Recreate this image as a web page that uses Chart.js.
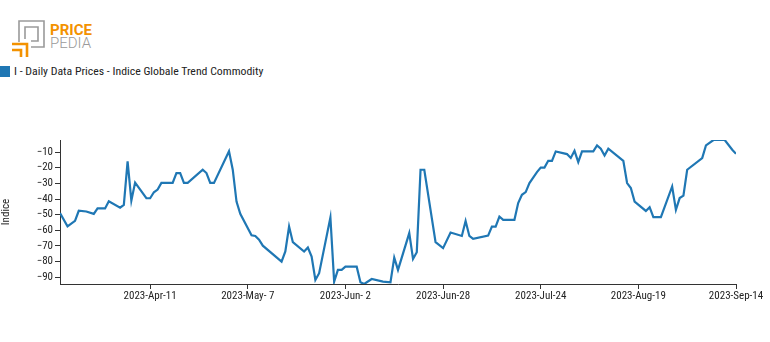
<!DOCTYPE html>
<html>
<head>
<meta charset="utf-8">
<script src="https://cdn.jsdelivr.net/npm/chart.js@4.4.0/dist/chart.umd.min.js"></script>
<style>
  html, body { margin: 0; padding: 0; background: #fff; }
  #wrap { position: relative; width: 770px; height: 342px; overflow: hidden; }
  #chart { position: absolute; left: 0; top: 0; }
  #logo { position: absolute; left: 0; top: 0; }
  #legend {
    position: absolute; left: 0; top: 64px;
    font: 11.8px 'Roboto Condensed', 'Liberation Sans Narrow', 'DejaVu Sans Condensed', Roboto, sans-serif;
    color: #222; display: flex; align-items: center; white-space: nowrap;
  }
  #legend .box { width: 10px; height: 11px; background: #1f77b4; margin-right: 4px; }
</style>
</head>
<body>
<div id="wrap">
  <svg id="logo" width="110" height="62">
    <polyline points="19,42 19,21 44,21 44,47 31,47" fill="none" stroke="#9a9a9a" stroke-width="1.6"/>
    <polyline points="25,39 25,27 38,27 38,41 31,41" fill="none" stroke="#9a9a9a" stroke-width="1.6"/>
    <polyline points="12,44 27,44 27,57" fill="none" stroke="#f39200" stroke-width="2.6"/>
    <polyline points="12,50 21,50 21,57" fill="none" stroke="#f39200" stroke-width="2.6"/>
    <text x="50" y="35" font-family="Roboto, sans-serif" font-weight="bold" font-size="15" fill="#f39200">PRICE</text>
    <text x="50" y="48" font-family="Roboto, sans-serif" font-weight="300" font-size="15" fill="#9a9a9a">PEDIA</text>
  </svg>
  <div id="legend"><span class="box"></span>I - Daily Data Prices - Indice Globale Trend Commodity</div>
  <canvas id="chart" width="770" height="342"></canvas>
</div>
<script>
// Daily index values
const startDate = '2023-03-18';
const endDate = '2023-09-14';

const dates = [
    '2023-03-18', '2023-03-20', '2023-03-22', '2023-03-23', '2023-03-25', '2023-03-27', '2023-03-28',
    '2023-03-30', '2023-03-31', '2023-04-03', '2023-04-04', '2023-04-05', '2023-04-06', '2023-04-07',
    '2023-04-10', '2023-04-11', '2023-04-12', '2023-04-13', '2023-04-14', '2023-04-17', '2023-04-18',
    '2023-04-19', '2023-04-20', '2023-04-21', '2023-04-25', '2023-04-26', '2023-04-27', '2023-04-28',
    '2023-05-02', '2023-05-03', '2023-05-04', '2023-05-05', '2023-05-08', '2023-05-09', '2023-05-10',
    '2023-05-11', '2023-05-16', '2023-05-17', '2023-05-18', '2023-05-19', '2023-05-22', '2023-05-23',
    '2023-05-24', '2023-05-25', '2023-05-26', '2023-05-29', '2023-05-30', '2023-05-31', '2023-06-01',
    '2023-06-02', '2023-06-05', '2023-06-06', '2023-06-07', '2023-06-09', '2023-06-12', '2023-06-14',
    '2023-06-15', '2023-06-16', '2023-06-19', '2023-06-20', '2023-06-21', '2023-06-22', '2023-06-23',
    '2023-06-26', '2023-06-28', '2023-06-30', '2023-07-03', '2023-07-04', '2023-07-05', '2023-07-06',
    '2023-07-10', '2023-07-11', '2023-07-12', '2023-07-13', '2023-07-14', '2023-07-17', '2023-07-18',
    '2023-07-19', '2023-07-20', '2023-07-21', '2023-07-22', '2023-07-23', '2023-07-24', '2023-07-25',
    '2023-07-26', '2023-07-27', '2023-07-28', '2023-07-31', '2023-08-01', '2023-08-02', '2023-08-03',
    '2023-08-04', '2023-08-07', '2023-08-08', '2023-08-09', '2023-08-10', '2023-08-11', '2023-08-15',
    '2023-08-16', '2023-08-17', '2023-08-18', '2023-08-21', '2023-08-22', '2023-08-23', '2023-08-25',
    '2023-08-28', '2023-08-29', '2023-08-30', '2023-08-31', '2023-09-01', '2023-09-05', '2023-09-06',
    '2023-09-08', '2023-09-11', '2023-09-13', '2023-09-14'
];

const values = [
    -49, -57.5, -54, -47.5, -48, -49.5, -46,
    -46, -41.5, -45.5, -43.7, -16, -41, -29.5,
    -39.5, -39.5, -35.7, -34, -29.7, -29.7, -23.4,
    -23.4, -29.7, -29.7, -21.3, -23.4, -29.7, -29.7,
    -9.5, -21.3, -41.6, -49.5, -63.2, -63.6, -66,
    -69.8, -80, -73.5, -57.6, -67.6, -73.6, -71,
    -76.8, -91.7, -87.4, -51.8, -92.8, -85.3, -85.3,
    -83.2, -83.2, -93.2, -94.3, -91.1, -92.8, -93.2,
    -77.5, -85.3, -61.8, -78.3, -74, -21.3, -21.3,
    -67.6, -71.4, -61.4, -63.6, -54, -63.6, -65.5,
    -63.4, -57.6, -57.6, -51.2, -53.3, -53.3, -42.6,
    -37.3, -35.6, -29.8, -26.3, -22.8, -19.9, -19.9,
    -15.6, -15.6, -9.6, -11.3, -13.8, -9.2, -16.4,
    -9.6, -9.6, -5.8, -7.9, -12.2, -7.9, -15.6,
    -29.8, -33, -41.6, -47.6, -45.2, -51.6, -51.6,
    -32, -46.9, -39.4, -37.8, -21.3, -13.8, -5.8,
    -2.3, -2.3, -8.5, -11.1
];

// Axis ticks
const xTickDates = ['2023-04-11', '2023-05-07', '2023-06-02', '2023-06-28', '2023-07-24', '2023-08-19', '2023-09-14'];
const xTickLabels = ['2023-Apr-11', '2023-May- 7', '2023-Jun- 2', '2023-Jun-28', '2023-Jul-24', '2023-Aug-19', '2023-Sep-14'];
const yTicks = [-90, -80, -70, -60, -50, -40, -30, -20, -10];

const seriesLabel = 'I - Daily Data Prices - Indice Globale Trend Commodity';
const lineColor = '#1f77b4';
const axisColor = '#333';

function dayOf(d) {
    return (Date.parse(d) - Date.parse(startDate)) / 86400000;
}

const points = dates.map((d, i) => ({ x: dayOf(d), y: values[i] }));

Chart.defaults.font.family = "'Roboto Condensed', 'Liberation Sans Narrow', 'DejaVu Sans Condensed', Roboto, sans-serif";
Chart.defaults.font.size = 11;
Chart.defaults.color = '#222';

new Chart(document.getElementById('chart'), {
    type: 'line',
    data: {
        datasets: [{
            label: seriesLabel,
            data: points,
            borderColor: lineColor,
            backgroundColor: lineColor,
            borderWidth: 2.2,
            pointRadius: 0,
            tension: 0,
            fill: false
        }]
    },
    options: {
        responsive: false,
        animation: false,
        events: [],
        layout: { padding: { left: 0, top: 140, right: 34, bottom: 0 } },
        plugins: {
            legend: { display: false },
            tooltip: { enabled: false }
        },
        scales: {
            x: {
                type: 'linear',
                min: 0,
                max: dayOf(endDate),
                afterBuildTicks: (axis) => {
                    axis.ticks = xTickDates.map(d => ({ value: dayOf(d) }));
                },
                afterFit: (scale) => { scale.height = 58; },
                border: { color: axisColor, width: 1 },
                grid: { drawOnChartArea: false, drawTicks: true, tickLength: 5, color: axisColor },
                ticks: {
                    padding: 1,
                    maxRotation: 0,
                    autoSkip: false,
                    callback: (v, i) => xTickLabels[i]
                }
            },
            y: {
                min: Math.min(...values),
                max: Math.max(...values),
                afterBuildTicks: (axis) => {
                    axis.ticks = yTicks.map(v => ({ value: v }));
                },
                afterFit: (scale) => { scale.width = 60; },
                border: { color: axisColor, width: 1 },
                grid: { drawOnChartArea: false, drawTicks: true, tickLength: 5, color: axisColor },
                ticks: {
                    padding: 2,
                    callback: (v) => (v < 0 ? '\u2212' : '') + Math.abs(v)
                },
                title: {
                    display: true,
                    text: 'Indice',
                    font: { size: 11 },
                    padding: { top: 0, bottom: 0 }
                }
            }
        }
    }
});
</script>
</body>
</html>
